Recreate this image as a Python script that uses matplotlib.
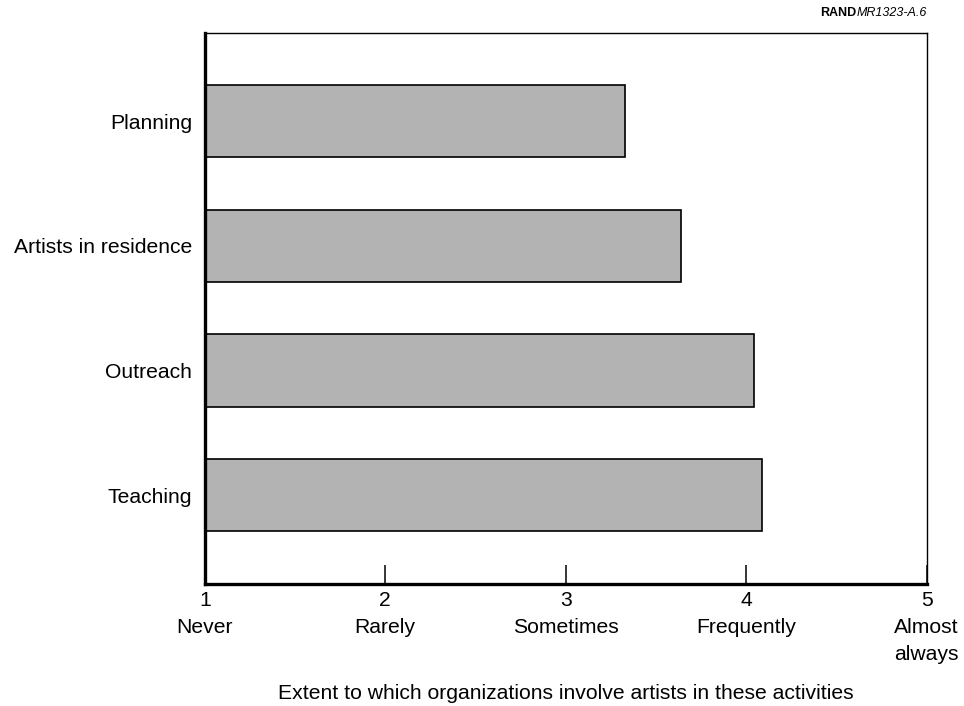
import matplotlib
matplotlib.use('Agg')
import matplotlib.pyplot as plt

plt.rcParams['font.family'] = ['Liberation Sans', 'DejaVu Sans']

# data (top to bottom as drawn)
categories = ['Planning', 'Artists in residence', 'Outreach', 'Teaching']
values = [3.33, 3.64, 4.045, 4.09]
tick_vals = [1, 2, 3, 4, 5]
tick_labels = ['1\nNever', '2\nRarely', '3\nSometimes', '4\nFrequently', '5\nAlmost\nalways']

text_size = 15.2
base = 1

fig = plt.figure(figsize=(9.64, 7.06), dpi=100)
ax = fig.add_axes([0.2124, 0.1732, 0.9613 - 0.2124, 0.9537 - 0.1732])

ypos = list(range(len(categories)))[::-1]
ax.barh(ypos, [v - base for v in values], left=base, height=0.58,
        color='#b3b3b3', edgecolor='black', linewidth=1.2)

ax.set_xlim(1, 5)
ax.set_ylim(-0.71, 3.71)
ax.set_yticks(ypos)
ax.set_yticklabels(categories, fontsize=text_size)
ax.tick_params(axis='y', length=0, pad=9)
ax.set_xticks(tick_vals)
ax.set_xticklabels(tick_labels, fontsize=text_size, linespacing=1.55, va='top')
ax.tick_params(axis='x', direction='in', length=14, width=1.1, pad=5)

ax.spines['left'].set_linewidth(2.4)
ax.spines['bottom'].set_linewidth(2.4)
ax.spines['top'].set_linewidth(1.0)
ax.spines['right'].set_linewidth(1.0)

ax.set_xlabel('Extent to which organizations involve artists in these activities',
              fontsize=text_size, labelpad=14)

# RAND tag in the top right corner
fig.canvas.draw()
r = fig.canvas.get_renderer()
t2 = fig.text(0.9613, 0.981, 'MR1323-A.6', fontsize=9, style='italic',
              ha='right', va='center')
bb = t2.get_window_extent(renderer=r)
fig.text(bb.x0 / fig.bbox.width, 0.981, 'RAND', fontsize=9, fontweight='bold',
         ha='right', va='center')

plt.savefig('out.png', dpi=100)
